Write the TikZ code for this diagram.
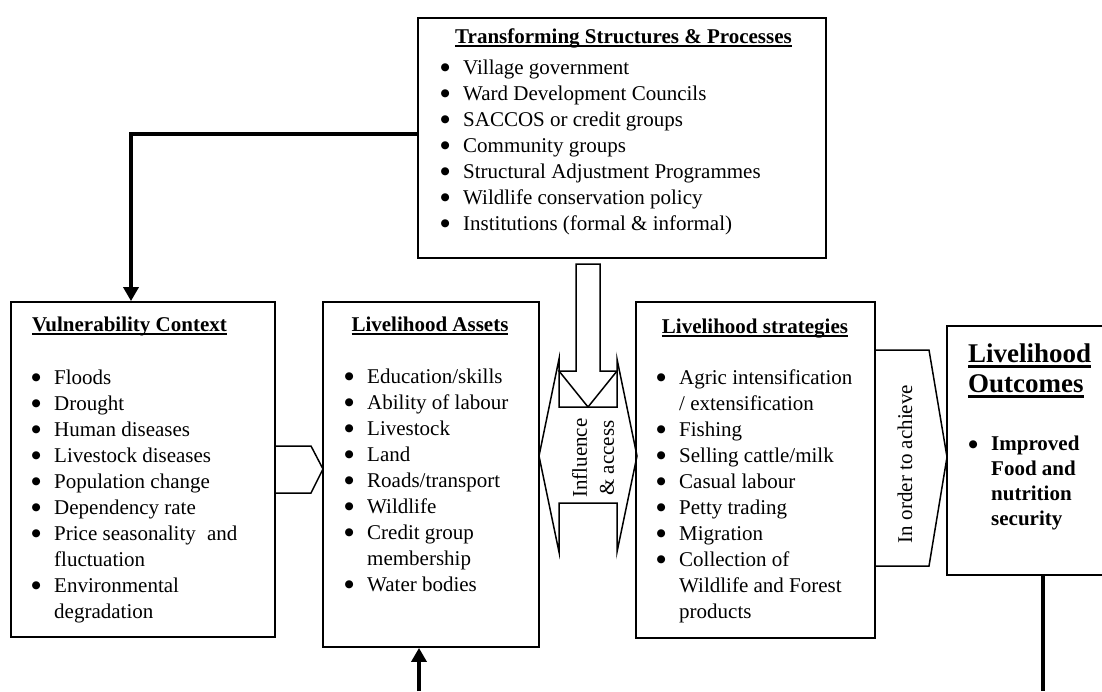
\documentclass[tikz,border=0pt]{standalone}
\usepackage{fontspec}
\setmainfont{Liberation Serif}
\newfontfamily\dvs{DejaVu Sans}
\usetikzlibrary{arrows.meta,calc}
\newcommand{\bitem}[1]{\par\noindent\spaceskip=0pt\xspaceskip=0pt\hangindent=22.5pt\hangafter=1\strut\makebox[22.5pt][l]{\raisebox{3.2pt}{\dvs\fontsize{10.5}{10.5}\selectfont ●}}#1\par}
\newcommand{\myul}[3]{\setbox0\hbox{#3}\rlap{\rule[-#1]{\wd0}{#2}}\box0}
\begin{document}
\begin{tikzpicture}[x=1pt,y=-1pt,
  box/.style={draw, line width=1.8pt, inner sep=0pt},
  blk/.style={draw, line width=1.5pt, line join=miter},
  conn/.style={line width=3.4pt, -{Triangle[width=15pt,length=14pt]}},
  lst/.style={anchor=north west, inner sep=0pt, text width=330pt, align=left, font=\fontsize{21}{26}\selectfont},
  hd/.style={inner sep=0pt, font=\fontsize{21}{26}\selectfont\bfseries},
  rot/.style={rotate=90, inner sep=0pt, align=center, font=\fontsize{21}{27}\selectfont},
]
\useasboundingbox (0,0) rectangle (1102,691);

% boxes
\node[box, minimum width=408pt, minimum height=240pt] (trans) at (622,138) {};
\node[box, minimum width=264pt, minimum height=335pt] (vul) at (143,469.5) {};
\node[box, minimum width=216pt, minimum height=345pt] (assets) at (431,474.5) {};
\node[box, minimum width=239pt, minimum height=336pt] (strat) at (755.5,470) {};
\node[box, minimum width=170pt, minimum height=249pt] (outc) at (1032,450.5) {};

% headings
\node[hd, anchor=base] (transh) at (623.5,43) {\myul{4pt}{1.8pt}{Transforming Structures \& Processes}};
\node[hd, anchor=base west] (vulh) at (32,331) {\myul{4pt}{1.8pt}{Vulnerability Context}};
\node[hd, anchor=base] (assetsh) at (430,331) {\myul{4pt}{1.8pt}{Livelihood Assets}};
\node[hd, anchor=base] (strath) at (755,333) {\myul{4pt}{1.8pt}{Livelihood strategies}};
\node[anchor=base west, inner sep=0pt, font=\fontsize{27}{30}\selectfont\bfseries] (outch1) at (968,362) {\myul{6pt}{2.8pt}{Livelihood}};
\node[anchor=base west, inner sep=0pt, font=\fontsize{27}{30}\selectfont\bfseries] (outch2) at (968,392) {\myul{6pt}{2.8pt}{Outcomes}};

% lists
\node[lst] (translist) at (440.5,47.8) {%
\bitem{Village government}
\bitem{Ward Development Councils}
\bitem{SACCOS or credit groups}
\bitem{Community groups}
\bitem{Structural Adjustment Programmes}
\bitem{Wildlife conservation policy}
\bitem{Institutions (formal \& informal)}};

\node[lst] (vullist) at (31.5,357.8) {%
\bitem{Floods}
\bitem{Drought}
\bitem{Human diseases}
\bitem{Livestock diseases}
\bitem{Population change}
\bitem{Dependency rate}
\bitem{Price seasonality\hspace{6pt} and\newline fluctuation}
\bitem{Environmental\newline degradation}};

\node[lst] (assetslist) at (344.5,356.8) {%
\bitem{Education/skills}
\bitem{Ability of labour}
\bitem{Livestock}
\bitem{Land}
\bitem{Roads/transport}
\bitem{Wildlife}
\bitem{Credit group\newline membership}
\bitem{Water bodies}};

\node[lst] (stratlist) at (656.5,357.8) {%
\bitem{Agric intensification\newline / extensification}
\bitem{Fishing}
\bitem{Selling cattle/milk}
\bitem{Casual labour}
\bitem{Petty trading}
\bitem{Migration}
\bitem{Collection of\newline Wildlife and Forest\newline products}};

\node[lst, font=\fontsize{21}{25}\selectfont\bfseries] (outclist) at (968.5,425.5) {%
\bitem{Improved\newline Food and\newline nutrition\newline security}};

% block arrows
\draw[blk] (275,446) -- (311,446) -- (323,469) -- (311,493) -- (275,493);
\draw[blk] (539,456) -- (559,359) -- (559,407) -- (617,407) -- (617,359) -- (637,456)
  -- (617,552) -- (617,503) -- (559,503) -- (559,552) -- cycle;
\draw[blk] (576,264) -- (600,264) -- (600,371) -- (617,371) -- (588,407) -- (559,371) -- (576,371) -- cycle;
\draw[blk] (875,350) -- (929,350) -- (947,457) -- (929,566) -- (875,566);

\node[rot] (infl) at (593,458) {Influence\\\& access};
\node[rot] (achieve) at (905,464) {In order to achieve};

% connectors
\draw[conn] ([yshift=4pt]trans.west) -| ([xshift=-12pt]vul.north);
\coordinate (abot) at (419,691);
\draw[conn] (abot) -- (abot |- assets.south);
\coordinate (obot) at (1043,691);
\draw[line width=3.4pt] (obot |- outc.south) -- (obot);
\end{tikzpicture}
\end{document}
